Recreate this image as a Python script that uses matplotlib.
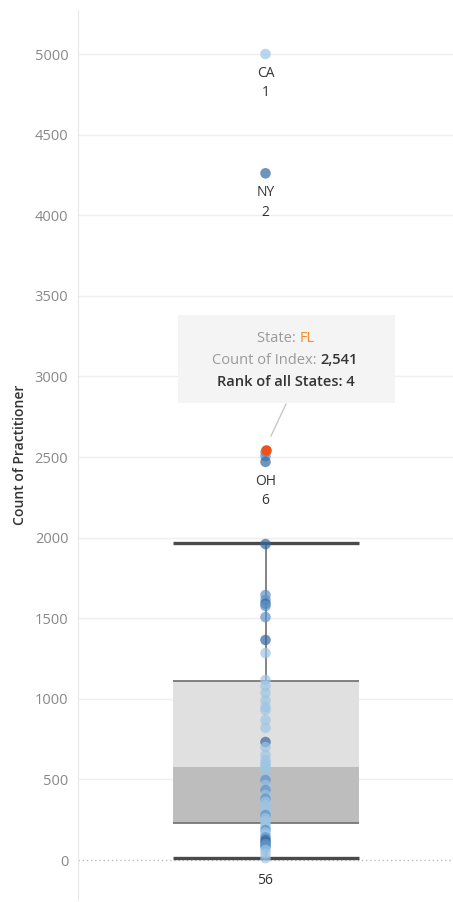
import numpy as np
import matplotlib.pyplot as plt
import matplotlib.patches as mpatches
from matplotlib.lines import Line2D

plt.rcParams['font.family'] = ['Open Sans', 'DejaVu Sans']

# counts per state (descending)
counts = [5000, 4260, 2541, 2530, 2505, 2470, 1960, 1644, 1613, 1590, 1576, 1507, 1365, 1284,
          1117, 1080, 1036, 990, 950, 930, 868, 820, 732, 700, 651, 620, 600, 585,
          570, 540, 496, 465, 434, 403, 380, 360, 340, 322, 300, 279, 258, 240,
          220, 205, 186, 170, 155, 140, 124, 110, 100, 90, 81, 62, 40, 12]
# colour measure level per point: 0 light, 1 mid, 2 dark
shade = [0, 2, 1, 1, 1, 2, 2, 1, 1, 2, 1, 1, 2, 0,
         0, 0, 0, 0, 0, 0, 0, 0, 2, 0, 0, 0, 0, 0,
         0, 0, 1, 0, 1, 0, 1, 0, 0, 0, 0, 1, 0, 0,
         0, 0, 1, 0, 0, 1, 2, 2, 1, 1, 1, 0, 0, 0]
highlight_idx = 2  # FL

label_states = ['CA', 'NY', 'OH']
label_counts = [5000, 4260, 2470]
label_ranks = [1, 2, 6]

# box plot values as shown
whisker_lo, q1, median, q3, whisker_hi = 12, 230, 577, 1110, 1965

yticks = [0, 500, 1000, 1500, 2000, 2500, 3000, 3500, 4000, 4500, 5000]

palette = ['#9ec5e4', '#5d93c7', '#34689f']
W, H = 453, 902


def fx(px):
    return px / W


def fy(py):
    return 1 - py / H


fig = plt.figure(figsize=(W / 100, H / 100), dpi=100)
ax = fig.add_axes([fx(78), fy(900), (W - 78) / W, 890 / H])
ax.set_xlim(0, 1)
ax.set_ylim(-248, 5273)

# grid
for t in yticks:
    if t == 0:
        ax.axhline(t, color='#bdbdbd', lw=1, ls=(0, (1, 2)), zorder=0)
    else:
        ax.axhline(t, color='#efefef', lw=1, zorder=0)

# box
ax.bar(0.5, q3 - median, bottom=median, width=0.496, color='#e0e0e0', zorder=1)
ax.bar(0.5, median - q1, bottom=q1, width=0.496, color='#bdbdbd', zorder=1)
ax.hlines([q1, q3], 0.252, 0.748, color='#777777', lw=1.3, zorder=2)
ax.vlines(0.5, q3, whisker_hi, color='#7a7a7a', lw=1.3, zorder=2)
ax.vlines(0.5, whisker_lo, q1, color='#7a7a7a', lw=1.3, zorder=2)
ax.hlines([whisker_lo, whisker_hi], 0.252, 0.748, color='#4a4a4a', lw=2.4, zorder=2)

# points
vals = np.array(counts)
cols = [palette[s] for s in shade]
mask = np.arange(len(vals)) != highlight_idx
ax.scatter(np.full(mask.sum(), 0.5), vals[mask], s=58, c=np.array(cols)[mask],
           alpha=0.7, linewidths=0, zorder=3)
ax.scatter([0.5], [vals[highlight_idx]], s=58, c='#f0501a', linewidths=0, zorder=4)

# labels under outliers
for st, v, r in zip(label_states, label_counts, label_ranks):
    ax.annotate(st, (0.5, v), xytext=(0, -14), textcoords='offset points',
                ha='center', va='center', fontsize=10, color='#333333')
    ax.annotate(str(r), (0.5, v), xytext=(0, -28), textcoords='offset points',
                ha='center', va='center', fontsize=10, color='#333333')

# count label
ax.annotate(str(len(counts)), (0.5, 0), xytext=(0, -14.5), textcoords='offset points',
            ha='center', va='center', fontsize=10, color='#333333')

# axes styling
ax.set_yticks(yticks)
ax.set_yticklabels([str(t) for t in yticks])
ax.tick_params(axis='y', length=0, pad=7, labelsize=10.5, labelcolor='#888888')
ax.set_xticks([])
for s in ['top', 'right', 'bottom']:
    ax.spines[s].set_visible(False)
ax.spines['left'].set_color('#e8e8e8')
ax.set_ylabel('Count of Practitioner', fontsize=10, fontweight='semibold', color='#333333')
ax.yaxis.set_label_coords(-0.137, 0.5)

# tooltip
fig.add_artist(mpatches.Rectangle((fx(178), fy(403)), (395 - 178) / W, (403 - 315) / H,
                                  transform=fig.transFigure, facecolor='#f4f4f4',
                                  edgecolor='none', zorder=5))
fig.add_artist(Line2D([fx(271), fx(286)], [fy(436), fy(404)], transform=fig.transFigure,
                      color='#c8c8c8', lw=1, zorder=5))
fs = 10.5
fig.text(fx(300), fy(338), 'State: ', ha='right', va='center', fontsize=fs, color='#9a9a9a', zorder=6)
fig.text(fx(300), fy(338), 'FL', ha='left', va='center', fontsize=fs, color='#f28e2b', zorder=6)
fig.text(fx(320), fy(360), 'Count of Index: ', ha='right', va='center', fontsize=fs, color='#9a9a9a', zorder=6)
fig.text(fx(320), fy(360), '2,541', ha='left', va='center', fontsize=fs, color='#333333',
         fontweight='semibold', zorder=6)
fig.text(fx(286), fy(382), 'Rank of all States: 4', ha='center', va='center', fontsize=fs,
         color='#333333', fontweight='semibold', zorder=6)

fig.savefig('out.png', dpi=100)
